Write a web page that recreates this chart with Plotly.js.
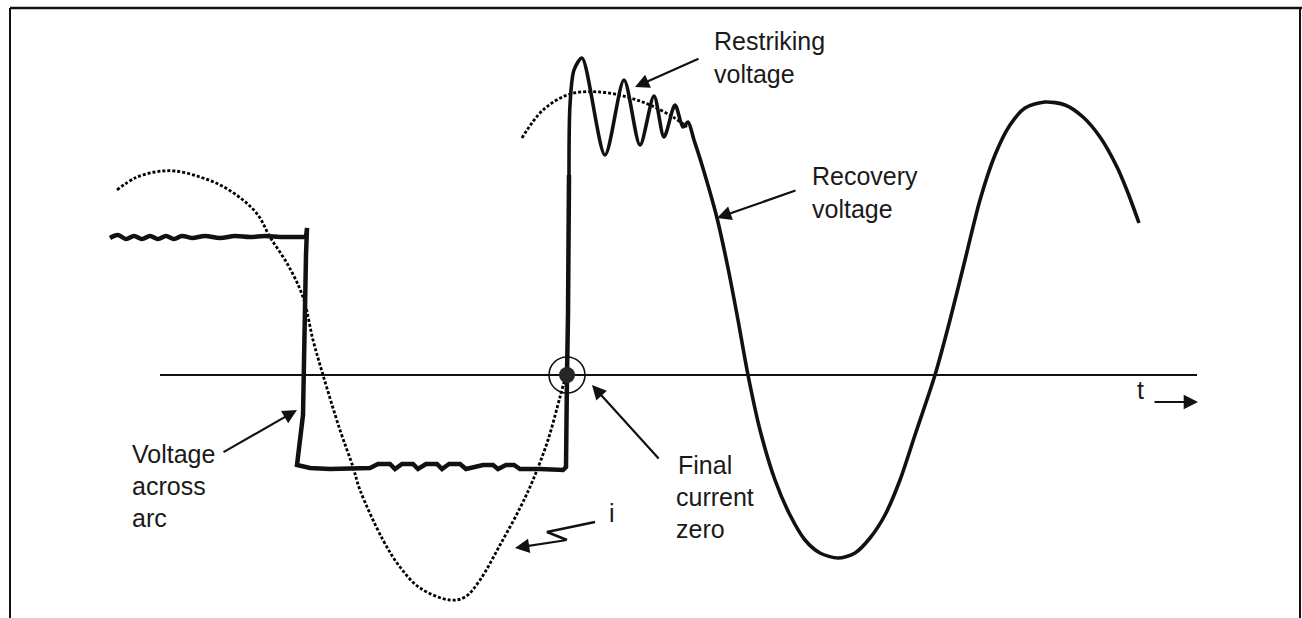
<!DOCTYPE html>
<html>
<head>
<meta charset="utf-8">
<script src="https://cdn.plot.ly/plotly-3.0.1.min.js"></script>
<style>html,body{margin:0;padding:0;background:#fff;}#chart{width:1302px;height:618px;}</style>
</head>
<body>
<div id="chart"></div>
<script>
// ---- values (x = time, y = signal, 0 = time axis) ----
// wavy top of the arc voltage
const arcTopX = [110,118,126,134,142,150,158,166,174,182,192,205,220,235,250,265,280,296,306];
const arcTopV = [137,140,136,139,136,139,136,139,136,139,137,139,137,139,138,139,138,138,138];

// rest of the arc voltage (drop, negative plateau, rise at final current zero)
const arcX = [306,307,306,305,305,304,303,
              297,310,330,350,370,378,390,395,402,413,418,426,437,442,449,460,466,483,493,498,506,514,520,540,563,
              566,566,567,567,568,569];
const arcV = [138,147,120,60,20,0,-40,
              -90,-93,-94,-93,-93,-89,-89,-94,-89,-89,-94,-89,-89,-94,-89,-89,-94,-90,-90,-94,-90,-90,-94,-94,-95,
              -92,-60,-30,0,60,200];

// restriking + recovery voltage
const recX = [569,570,574,582,605,624,640,654,664,675,683,688,694,702,717,728,738,748,760,775,790,805,820,838,
              855,870,885,900,915,935,950,965,980,995,1010,1025,1045,1065,1083,1100,1117,1128,1139];
const recV = [200,270,305,317,220,295,230,279,238,270,248,253,235,210,157,107,55,0,-55,-105,-140,-165,-178,-183,
              -178,-163,-140,-105,-60,0,55,115,175,220,250,267,273,270,258,238,208,182,152];

// current i (dotted)
const curX = [117,135,155,175,200,222,243,258,270,288,303,313,323,340,353,360,383,400,420,450,465,480,500,520,533,548,560,566];
const curV = [185,197,203,204,198,189,175,160,138,110,78,35,0,-55,-92,-115,-165,-192,-213,-225,-222,-205,-170,-133,-105,-65,-22,0];

// dotted envelope of the recovery voltage
const envX = [522,543,570,600,627,650,673,687];
const envV = [237,265,281,283,278,270,258,248];

const zeroX = [567];
const zeroV = [0];

const squigX = [595,547,567];
const squigV = [-147,-157,-165];

const axisX = [160,1197];
const axisV = [0,0];

const labels = [
  {t:'Restriking', x:712, y:334},
  {t:'voltage',    x:712, y:301},
  {t:'Recovery',   x:810, y:199},
  {t:'voltage',    x:810, y:166},
  {t:'Voltage',    x:130, y:-79},
  {t:'across',     x:130, y:-111},
  {t:'arc',        x:130, y:-143},
  {t:'Final',      x:676, y:-90},
  {t:'current',    x:674, y:-122},
  {t:'zero',       x:674, y:-154},
  {t:'i',          x:607, y:-138},
  {t:'t',          x:1135, y:-15}
];

const arrows = [
  {x:635, y:288, ax:700, ay:317},
  {x:717, y:157, ax:797, ay:185},
  {x:297, y:-35, ax:222, ay:-78},
  {x:592, y:-10, ax:660, ay:-85},
  {x:515, y:-173, ax:567, ay:-165},
  {x:1198, y:-27, ax:1153, ay:-27}
];

const INK = '#111111';

const traces = [
  {x:axisX, y:axisV, mode:'lines', line:{color:INK, width:2}, hoverinfo:'skip'},
  {x:curX, y:curV, mode:'lines', line:{color:'#000', width:2.8, dash:'3px,2px', shape:'spline', smoothing:1}, hoverinfo:'skip'},
  {x:envX, y:envV, mode:'lines', line:{color:'#000', width:2.8, dash:'3px,2px', shape:'spline', smoothing:1}, hoverinfo:'skip'},
  {x:arcTopX, y:arcTopV, mode:'lines', line:{color:INK, width:4.5, shape:'spline', smoothing:1}, hoverinfo:'skip'},
  {x:arcX, y:arcV, mode:'lines', line:{color:INK, width:4.5, shape:'linear'}, hoverinfo:'skip'},
  {x:recX, y:recV, mode:'lines', line:{color:INK, width:3.6, shape:'spline', smoothing:0.8}, hoverinfo:'skip'},
  {x:squigX, y:squigV, mode:'lines', line:{color:INK, width:2.5}, hoverinfo:'skip'},
  {x:zeroX, y:zeroV, mode:'markers', marker:{symbol:'circle-open', size:36, color:INK, line:{width:1.6, color:INK}}, hoverinfo:'skip'},
  {x:zeroX, y:zeroV, mode:'markers', marker:{symbol:'circle', size:16, color:'#262626'}, hoverinfo:'skip'}
];

const annotations = [];
labels.forEach(l => annotations.push({
  x:l.x, y:l.y, xref:'x', yref:'y', text:l.t, showarrow:false,
  xanchor:'left', yanchor:'middle',
  font:{family:'"Liberation Sans", Arial, sans-serif', size:25, color:'#1a1a1a'}
}));
arrows.forEach(a => annotations.push({
  x:a.x, y:a.y, ax:a.ax, ay:a.ay, xref:'x', yref:'y', axref:'x', ayref:'y',
  text:'', showarrow:true, arrowhead:2, arrowsize:1.3, arrowwidth:2.2, arrowcolor:INK, standoff:0, startstandoff:0
}));

const frame = [
  {type:'line', xref:'x', yref:'y', x0:10, x1:1302, y0:367, y1:367, line:{color:INK, width:2.5}},
  {type:'line', xref:'x', yref:'y', x0:10, x1:10, y0:367, y1:-243, line:{color:INK, width:2}},
  {type:'line', xref:'x', yref:'y', x0:1300, x1:1300, y0:367, y1:-243, line:{color:INK, width:2}}
];

const layout = {
  width:1302, height:618,
  margin:{l:0, r:0, t:0, b:0, pad:0},
  paper_bgcolor:'#ffffff', plot_bgcolor:'#ffffff',
  showlegend:false,
  xaxis:{range:[0,1302], visible:false, fixedrange:true},
  yaxis:{range:[-243,375], visible:false, fixedrange:true},
  annotations:annotations,
  shapes:frame
};

Plotly.newPlot('chart', traces, layout, {displayModeBar:false, staticPlot:true});
</script>
</body>
</html>
